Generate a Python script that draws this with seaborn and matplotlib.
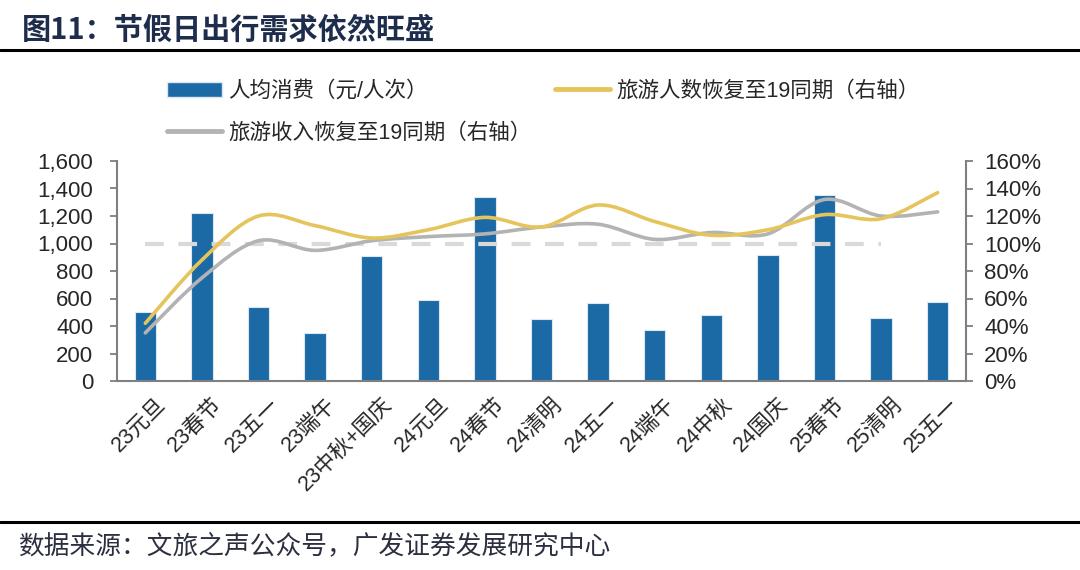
import numpy as np
import pandas as pd
import matplotlib
matplotlib.use('Agg')
import matplotlib.pyplot as plt
import matplotlib.transforms as mtransforms
from matplotlib.path import Path
from matplotlib.patches import PathPatch, Patch
from matplotlib.lines import Line2D
from matplotlib.ticker import FuncFormatter, FixedLocator
import seaborn as sns

### data
holidays = ['23元旦', '23春节', '23五一', '23端午', '23中秋+国庆', '24元旦', '24春节', '24清明',
            '24五一', '24端午', '24中秋', '24国庆', '25春节', '25清明', '25五一']
spend = [500, 1220, 540, 350, 910, 590, 1336, 453, 567, 369, 480, 919, 1355, 460, 577]
visitors = [42, 88, 120, 113, 104, 110, 119, 112, 128, 116, 106, 110, 121, 118, 137]
income = [35, 75, 102, 95, 102, 105, 107, 112, 114, 103, 108, 107, 132, 120, 123]
baseline = 100

sns.set_style('white')
plt.rcParams['font.family'] = ['Liberation Sans', 'Noto Sans CJK SC']
plt.rcParams['axes.unicode_minus'] = False

bar_col = '#1b6aa6'
yel_col = '#e6c45c'
gry_col = '#b3b3b3'
axis_col = '#7f7f7f'

W, H = 1080, 570
fig = plt.figure(figsize=(W / 100, H / 100), dpi=100)
ax = fig.add_axes([117 / W, (H - 381) / H, (966 - 117) / W, 220 / H])

df = pd.DataFrame({'holiday': holidays, 'spend': spend})
sns.barplot(data=df, x='holiday', y='spend', color=bar_col, saturation=1, width=0.38,
            edgecolor='#dbe8f3', linewidth=0.8, ax=ax)
ax.set_xlim(-0.5, len(holidays) - 0.5)
ax.set_ylim(0, 1600)
ax.set_yticks(np.arange(0, 1601, 200))
ax.yaxis.set_major_formatter(FuncFormatter(lambda v, p: f'{int(v):,}'))
ax.set_xlabel('')
ax.set_ylabel('')

### twin axis for recovery ratios
ax2 = ax.twinx()
ax2.set_ylim(0, 160)
ax2.set_yticks(np.arange(0, 161, 20))
ax2.yaxis.set_major_formatter(FuncFormatter(lambda v, p: f'{int(v)}%'))


def smooth_path(xs, ys):
    # excel-style smoothed line drawn as bezier segments through the points
    pts = np.column_stack([xs, ys]).astype(float)
    n = len(pts)
    verts = [pts[0]]
    codes = [Path.MOVETO]
    for i in range(n - 1):
        p0 = pts[max(i - 1, 0)]
        p1 = pts[i]
        p2 = pts[i + 1]
        p3 = pts[min(i + 2, n - 1)]
        verts += [p1 + (p2 - p0) / 6, p2 - (p3 - p1) / 6, p2]
        codes += [Path.CURVE4] * 3
    return Path(verts, codes)


xs = np.arange(len(holidays))
ax2.plot([0, 13], [baseline, baseline], color='#d9d9d9', lw=3, dashes=(4.5, 3.5), zorder=2)
ax2.add_patch(PathPatch(smooth_path(xs, income), fill=False, edgecolor=gry_col, lw=2.6,
                        capstyle='round', zorder=3))
ax2.add_patch(PathPatch(smooth_path(xs, visitors), fill=False, edgecolor=yel_col, lw=2.6,
                        capstyle='round', zorder=4))

### axes styling
for a in (ax, ax2):
    a.spines['top'].set_visible(False)
    for s in ['left', 'right', 'bottom']:
        a.spines[s].set_color(axis_col)
        a.spines[s].set_linewidth(1.5)
ax.spines['right'].set_visible(False)
ax2.spines['left'].set_visible(False)
ax2.spines['bottom'].set_visible(False)

ax.tick_params(axis='y', length=5, width=1.3, color=axis_col, labelsize=16, pad=12, direction='out')
ax2.tick_params(axis='y', length=5, width=1.3, color=axis_col, labelsize=16, pad=8, direction='out')

ax.xaxis.set_minor_locator(FixedLocator(np.arange(-0.5, len(holidays), 1)))
ax.tick_params(axis='x', which='minor', length=6, width=1.3, color=axis_col, direction='out')
ax.tick_params(axis='x', which='major', length=0, pad=9)
ax.set_xticks(xs)
ax.set_xticklabels(holidays, rotation=45, ha='right', va='top', rotation_mode='anchor', fontsize=15.5)
shift = mtransforms.ScaledTranslation(10 / 100, 0, fig.dpi_scale_trans)
for lab in ax.get_xticklabels():
    lab.set_transform(lab.get_transform() + shift)

### legends
h_bar = Patch(facecolor=bar_col, edgecolor='#dbe8f3')
h_gry = Line2D([], [], color=gry_col, lw=3.5)
h_yel = Line2D([], [], color=yel_col, lw=3.5)
leg_kw = dict(frameon=False, fontsize=15.5, handlelength=2.55, handleheight=0.75, handletextpad=0.28,
              borderpad=0, borderaxespad=0, labelspacing=0.95, loc='upper left')
leg1 = fig.legend([h_bar, h_gry], ['人均消费（元/人次）', '旅游收入恢复至19同期（右轴）'],
                  bbox_to_anchor=(167 / W, 1 - 81 / H), **leg_kw)
leg2 = fig.legend([h_yel], ['旅游人数恢复至19同期（右轴）'],
                  bbox_to_anchor=(555 / W, 1 - 81 / H), **leg_kw)

### title, rules and source
fig.text(22 / W, 1 - 30 / H, '图11：节假日出行需求依然旺盛', fontsize=21, fontweight='bold',
         color='#1f2d4d', va='center', ha='left', family=['Noto Sans CJK SC', 'DejaVu Sans'])
fig.add_artist(Line2D([0, 1], [1 - 50 / H, 1 - 50 / H], color='black', lw=2.2))
fig.add_artist(Line2D([0, 1], [1 - 522 / H, 1 - 522 / H], color='black', lw=2.2))
fig.text(18 / W, 1 - 546 / H, '数据来源：文旅之声公众号，广发证券发展研究中心', fontsize=18.5,
         color='#2b2f3f', va='center', ha='left', family=['Noto Sans CJK SC', 'DejaVu Sans'])

fig.savefig('out.png', dpi=100, facecolor='white')
